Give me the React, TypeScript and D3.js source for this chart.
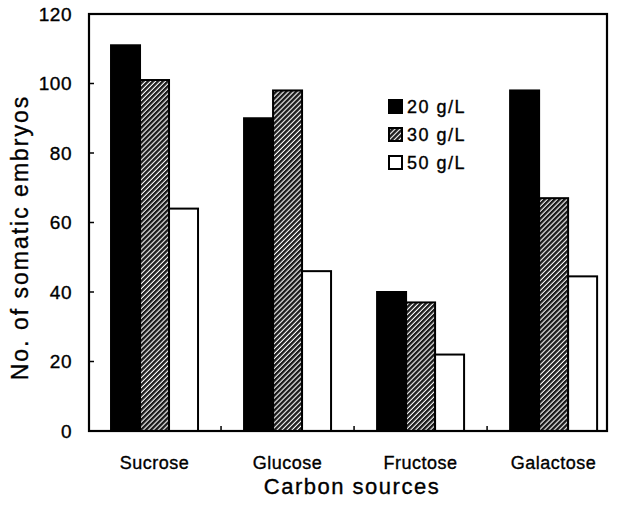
import React from "react";
import * as d3 from "d3";

const categories = ["Sucrose", "Glucose", "Fructose", "Galactose"];
const seriesNames = ["20 g/L", "30 g/L", "50 g/L"];
const values20 = [111, 90, 40, 98];
const values30 = [101, 98, 37, 67];
const values50 = [64, 46, 22, 44.5];
const yTicks = [0, 20, 40, 60, 80, 100, 120];

const W = 619;
const H = 505;
const m = { left: 89, right: 607, top: 14, bottom: 431 };
const FONT = "'Liberation Sans', Arial, Helvetica, sans-serif";

export default function App() {
  const series = [values20, values30, values50];
  const y = d3.scaleLinear().domain([0, 120]).range([m.bottom, m.top]);
  const x = d3
    .scaleBand<string>()
    .domain(categories)
    .range([m.left, m.right])
    .paddingInner(0.346)
    .paddingOuter(0.12)
    .align(0.69);
  const xs = d3
    .scaleBand<string>()
    .domain(seriesNames)
    .range([0, x.bandwidth()]);
  const fills = ["#000", "url(#hatch)", "#fff"];
  const step = x.step();
  const boundaries = categories.slice(0, -1).map((c) => (x(c) as number) + x.bandwidth() + (step - x.bandwidth()) / 2);
  const ts = { stroke: "#000", strokeWidth: 0.35 };

  return (
    <svg width={W} height={H} style={{ position: "absolute", left: 0, top: 0 }} fontFamily={FONT}>
      <defs>
        <pattern id="hatch" patternUnits="userSpaceOnUse" width="3.5" height="3.5" patternTransform="rotate(45)">
          <rect width="3.5" height="3.5" fill="#fff" />
          <rect x="0" y="0" width="2.4" height="3.5" fill="#1a1a1a" />
        </pattern>
      </defs>
      <rect width={W} height={H} fill="#fff" />
      {categories.map((c, ci) =>
        series.map((vals, si) => {
          const x0 = (x(c) as number) + (xs(seriesNames[si]) as number);
          return (
            <rect
              key={c + si}
              x={x0}
              y={y(vals[ci])}
              width={xs.bandwidth()}
              height={y(0) - y(vals[ci])}
              fill={fills[si]}
              stroke="#000"
              strokeWidth={2}
            />
          );
        })
      )}
      <rect x={m.left} y={m.top} width={m.right - m.left} height={m.bottom - m.top} fill="none" stroke="#000" strokeWidth={2.2} />
      {yTicks.map((t) => (
        <g key={t}>
          <line x1={m.left} x2={m.left + 5} y1={y(t)} y2={y(t)} stroke="#000" strokeWidth={1.5} />
          <text x={72} y={y(t)} dy="0.36em" textAnchor="end" fontSize={19} letterSpacing={0.5} {...ts}>
            {t}
          </text>
        </g>
      ))}
      {boundaries.map((b, i) => (
        <line key={i} x1={b} x2={b} y1={m.bottom} y2={m.bottom - 5} stroke="#000" strokeWidth={1.5} />
      ))}
      {categories.map((c) => (
        <text key={c} x={(x(c) as number) + x.bandwidth() / 2} y={463} dy="0.36em" textAnchor="middle" fontSize={18} letterSpacing={0.5} {...ts}>
          {c}
        </text>
      ))}
      <text x={352} y={486} dy="0.36em" textAnchor="middle" fontSize={22} letterSpacing={1.5} {...ts}>
        Carbon sources
      </text>
      <text
        transform={`translate(20,${(m.top + m.bottom) / 2 + 15}) rotate(-90)`}
        dy="0.36em"
        textAnchor="middle"
        fontSize={23}
        letterSpacing={2}
        {...ts}
      >
        No. of somatic embryos
      </text>
      {seriesNames.map((s, i) => (
        <g key={s} transform={`translate(388,${99 + i * 28})`}>
          <rect x={1} y={1} width={13} height={13} fill={fills[i]} stroke="#000" strokeWidth={2} />
          <text x={19} y={7.5} dy="0.36em" fontSize={18} letterSpacing={1.5} {...ts}>
            {s}
          </text>
        </g>
      ))}
    </svg>
  );
}
